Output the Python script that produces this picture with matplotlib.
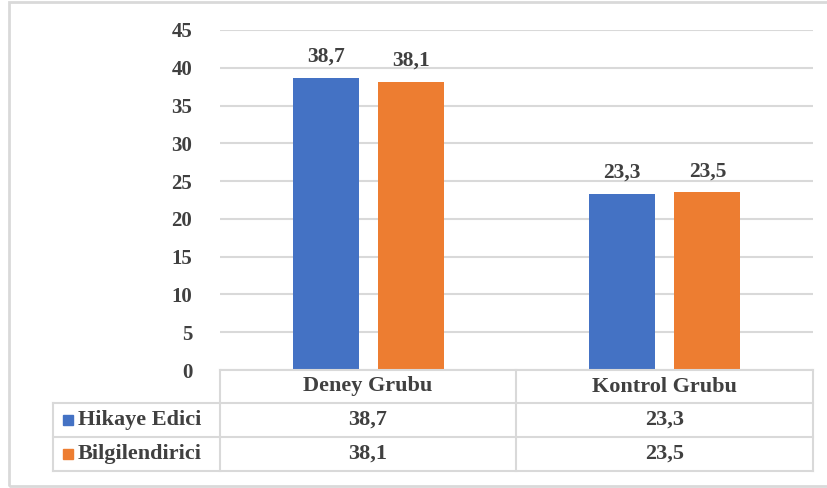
import matplotlib.pyplot as plt
from matplotlib.patches import Rectangle

categories = ["Deney Grubu", "Kontrol Grubu"]
series_names = ["Hikaye Edici", "Bilgilendirici"]
hikaye = [38.7, 23.3]
bilgi = [38.1, 23.5]
yticks = [0, 5, 10, 15, 20, 25, 30, 35, 40, 45]

colors = ["#4472C4", "#ED7D31"]
txt = "#404040"
grid = "#D9D9D9"
W, H = 827, 488

plt.rcParams['font.family'] = ['Liberation Serif', 'DejaVu Serif']
plt.rcParams['font.weight'] = 'bold'

fig = plt.figure(figsize=(W / 100, H / 100), dpi=100)

def fx(x):
    return x / W

def fy(y):
    return 1 - y / H

# plot area
x0, x1, ytop, ybot = 220, 813, 30, 370
ax = fig.add_axes([fx(x0), fy(ybot), fx(x1 - x0), (ybot - ytop) / H])
ax.set_xlim(0, len(categories))
ax.set_ylim(0, 45)
ax.set_yticks(yticks)
ax.set_yticklabels([str(v) for v in yticks], fontsize=15, color=txt, fontweight='bold')
ax.tick_params(axis='y', length=0, pad=20)
ax.set_xticks([])
for s in ax.spines.values():
    s.set_visible(False)
ax.yaxis.grid(True, color=grid, linewidth=1.5)
ax.set_axisbelow(True)

bw = 66 / 296
gap = 19 / 296
series = [hikaye, bilgi]
for i, vals in enumerate(series):
    xs = [k + 0.5 + (i - 0.5) * (bw + gap) for k in range(len(categories))]
    ax.bar(xs, vals, width=bw, color=colors[i], zorder=3)
    for x, v in zip(xs, vals):
        ax.text(x, v + 1.5, f"{v:.1f}".replace('.', ','), ha='center', va='bottom',
                fontsize=15.5, color=txt, fontweight='bold')

# data table
row_y = [370, 403, 437, 471]
col_x = [53, 220, 516, 813]
lw = 1.5
fig.add_artist(plt.Line2D([fx(220), fx(813)], [fy(370), fy(370)], color=grid, lw=lw))
for y in row_y[1:]:
    fig.add_artist(plt.Line2D([fx(53), fx(813)], [fy(y), fy(y)], color=grid, lw=lw))
fig.add_artist(plt.Line2D([fx(53), fx(53)], [fy(403), fy(471)], color=grid, lw=lw))
for x in col_x[1:]:
    fig.add_artist(plt.Line2D([fx(x), fx(x)], [fy(370), fy(471)], color=grid, lw=lw))

for k, c in enumerate(categories):
    cx = (col_x[k + 1] + col_x[k + 2]) / 2
    fig.text(fx(cx), fy((row_y[0] + row_y[1]) / 2), c, ha='center', va='center',
             fontsize=16, color=txt, fontweight='bold')

for i, (name, vals) in enumerate(zip(series_names, series)):
    cy = (row_y[i + 1] + row_y[i + 2]) / 2
    fig.add_artist(Rectangle((fx(63), fy(cy + 5)), fx(10), 10 / H, color=colors[i],
                             transform=fig.transFigure))
    fig.text(fx(78), fy(cy), name, ha='left', va='center', fontsize=16, color=txt,
             fontweight='bold')
    for k, v in enumerate(vals):
        cx = (col_x[k + 1] + col_x[k + 2]) / 2
        fig.text(fx(cx), fy(cy), f"{v:.1f}".replace('.', ','), ha='center', va='center',
                 fontsize=16, color=txt, fontweight='bold')

# outer frame
fig.add_artist(Rectangle((fx(9), fy(486)), fx(830 - 9), (486 - 2) / H, fill=False,
                         edgecolor=grid, lw=2, transform=fig.transFigure))

fig.savefig("out.png", dpi=100)
